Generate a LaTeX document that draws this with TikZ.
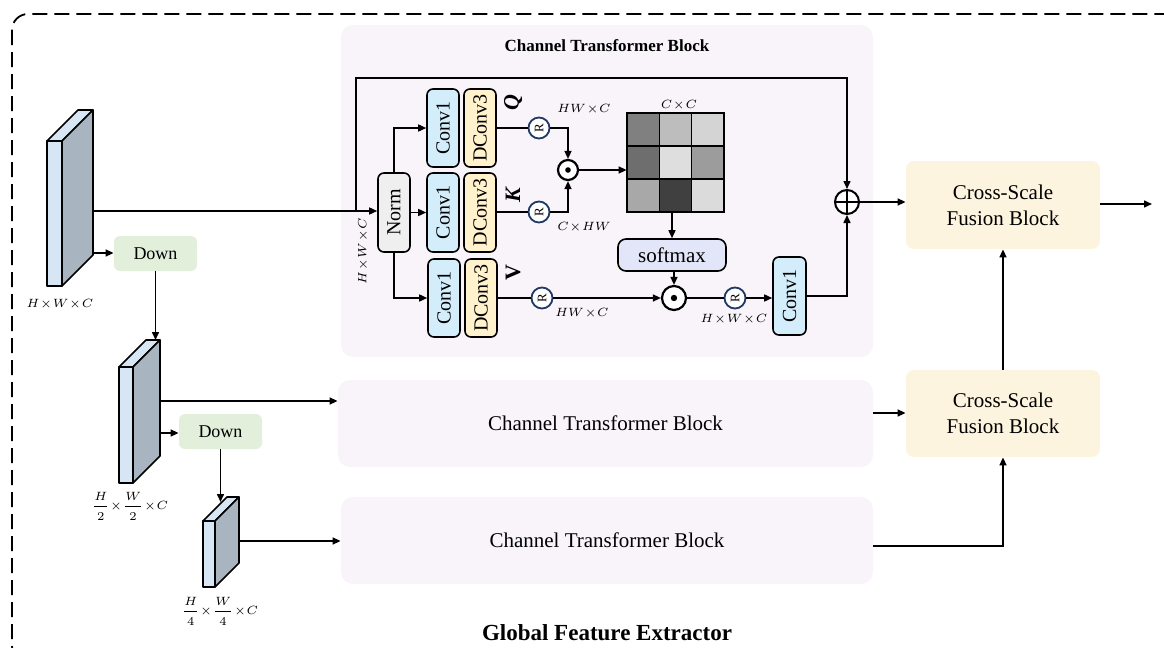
\documentclass[tikz,border=0pt]{standalone}
\usepackage{fontspec}
\setmainfont{Liberation Serif}
\usetikzlibrary{arrows.meta,calc}
\definecolor{ctbfill}{HTML}{F8F4FA}
\definecolor{csffill}{HTML}{FDF4DF}
\definecolor{downfill}{HTML}{E2EFDA}
\definecolor{convblue}{HTML}{D3EEFA}
\definecolor{dconvyel}{HTML}{FFF2CC}
\definecolor{normgray}{HTML}{EFEFEF}
\definecolor{softfill}{HTML}{E3E6F8}
\definecolor{rnavy}{HTML}{1F3864}
\definecolor{frontblue}{HTML}{D6E6F4}
\definecolor{sidegray}{HTML}{A8B5C1}
\newcommand\fblock[5]{%
  \filldraw[blk,fill=frontblue] (#1,#2) rectangle (#3,#4);
  \filldraw[blk,fill=frontblue] (#1,#2) -- ({#1+#5},{#2-#5}) -- ({#3+#5},{#2-#5}) -- (#3,#2) -- cycle;
  \filldraw[blk,fill=sidegray] (#3,#2) -- ({#3+#5},{#2-#5}) -- ({#3+#5},{#4-#5}) -- (#3,#4) -- cycle;}
\newcommand\mcell[3]{\fill[#3] ({627+#1*32.33},{113+#2*33}) rectangle ++(32.33,33);}
\newcommand\tx{\mskip1mu{\times}\mskip1mu}
\begin{document}
\begin{tikzpicture}[x=0.5pt,y=-0.5pt,
  ln/.style={line width=0.75pt},
  arr/.style={line width=0.75pt,-{Triangle[length=4pt,width=3.5pt]}},
  blk/.style={line width=0.8pt,line join=round},
  panel/.style={fill=ctbfill,rounded corners=6pt,inner sep=0pt},
  csf/.style={fill=csffill,rounded corners=4pt,inner sep=0pt,minimum width=97pt,align=center,font=\fontsize{10.5}{13}\selectfont},
  down/.style={fill=downfill,rounded corners=3pt,inner sep=0pt,minimum width=41.5pt,minimum height=17.5pt,font=\fontsize{9}{9}\selectfont},
  vbox/.style={draw,line width=0.8pt,rounded corners=3pt,inner sep=0pt,minimum width=16pt,minimum height=39pt,font=\fontsize{10}{10}\selectfont},
  conv/.style={vbox,fill=convblue},
  dconv/.style={vbox,fill=dconvyel},
  rc/.style={circle,draw=rnavy,line width=0.9pt,fill=white,inner sep=0pt,minimum size=10.5pt,font=\fontsize{6.5}{6.5}\selectfont},
  op/.style={circle,draw,line width=1.1pt,inner sep=0pt,fill=white},
  dim/.style={font=\fontsize{6.5}{7}\selectfont,inner sep=0pt},
  qkv/.style={rotate=90,font=\fontsize{11}{11}\selectfont\bfseries\itshape,inner sep=0pt}]
\useasboundingbox (0,0) rectangle (1164,648);
\clip (0,0) rectangle (1164,648);
% outer dashed frame
\draw[line width=0.9pt,dash pattern=on 7.5pt off 3.5pt,rounded corners=8pt] (12,14) rectangle (1182,662);
\node[font=\fontsize{11.5}{12}\selectfont\bfseries] (gfe) at (607,633) {Global Feature Extractor};

% panels
\node[panel,minimum width=266pt,minimum height=166pt] (ctb1) at (607,191) {};
\node[font=\fontsize{8.5}{9}\selectfont\bfseries] (title) at (607,46) {Channel Transformer Block};
\node[panel,minimum width=267.5pt,minimum height=43.5pt,font=\fontsize{10.5}{11}\selectfont] (ctb2) at (605.5,423.5) {Channel Transformer Block};
\node[panel,minimum width=266pt,minimum height=43.5pt,font=\fontsize{10.5}{11}\selectfont] (ctb3) at (607,540.5) {Channel Transformer Block};
\node[csf,minimum height=44pt] (csf1) at (1003,205) {Cross-Scale\\Fusion Block};
\node[csf,minimum height=43.5pt] (csf2) at (1003,413.5) {Cross-Scale\\Fusion Block};

% feature blocks
\fblock{47}{141}{62}{286}{31}
\fblock{119}{367}{133}{483}{27}
\fblock{203}{521}{215}{587}{24}
\node[dim] (l1) at (60,304) {$H\tx W\tx C$};
\node[dim,font=\fontsize{6}{7}\selectfont] (l2) at (130,506) {$\displaystyle\frac{H}{2}\tx\frac{W}{2}\tx C$};
\node[dim,font=\fontsize{6}{7}\selectfont] (l3) at (220,611) {$\displaystyle\frac{H}{4}\tx\frac{W}{4}\tx C$};
\node[down] (down1) at (155.5,253.5) {Down};
\node[down] (down2) at (220.5,431.5) {Down};

\coordinate (b1out) at (93,211);
\coordinate (split) at (356,211);
\coordinate (rtop) at (356,78);
\coordinate (b1down) at (93,253);
\coordinate (b2top) at (155.5,340);
\coordinate (b2out) at (160,401);
\coordinate (b2down) at (160,433);
\coordinate (b3top) at (220.5,502);
\coordinate (b3out) at (239,541);
\coordinate (c2o) at (873,413);
\coordinate (c3o) at (873,546);
\coordinate (outend) at (1152,204);

% inner nodes of the first block
\node[vbox,fill=normgray,minimum height=39.5pt] (norm) at (394,212.5) {\rotatebox{90}{Norm}};
\node[conv] (c1q) at (443,128) {\rotatebox{90}{Conv1}};
\node[dconv] (dq) at (480,128) {\rotatebox{90}{DConv3}};
\node[conv,minimum height=39.5pt] (c1k) at (443,212.5) {\rotatebox{90}{Conv1}};
\node[dconv,minimum height=39.5pt] (dk) at (480,212.5) {\rotatebox{90}{DConv3}};
\node[conv] (c1v) at (444,298) {\rotatebox{90}{Conv1}};
\node[dconv] (dv) at (481,298) {\rotatebox{90}{DConv3}};
\node[qkv] (lq) at (513,103) {Q};
\node[qkv] (lk) at (513,195) {K};
\node[rotate=90,font=\fontsize{11}{11}\selectfont\bfseries,inner sep=0pt] (lv) at (513,273) {V};
\node[rc] (rq) at (539,128) {\rotatebox{90}{R}};
\node[rc] (rk) at (539,212) {\rotatebox{90}{R}};
\node[rc] (rv) at (542,298) {\rotatebox{90}{R}};
\node[rc] (ro) at (735,298) {\rotatebox{90}{R}};
\node[op,minimum size=10pt] (od1) at (568,170) {};
\node[op,minimum size=12pt] (od2) at (674,298) {};
\node[op,minimum size=12pt,line width=1pt] (opl) at (847,202) {};
\node[inner sep=0pt,minimum width=48.5pt,minimum height=49.5pt] (mat) at (675.5,162.5) {};
\node[draw,line width=0.8pt,rounded corners=4pt,fill=softfill,inner sep=0pt,minimum width=54pt,minimum height=16pt,font=\fontsize{10.5}{10.5}\selectfont] (soft) at (672,255) {softmax};
\node[conv,minimum width=16.5pt] (c1o) at (789.5,296) {\rotatebox{90}{Conv1}};

% matrix
\mcell{0}{0}{black!50}\mcell{1}{0}{black!26}\mcell{2}{0}{black!17}
\mcell{0}{1}{black!57}\mcell{1}{1}{black!13}\mcell{2}{1}{black!39}
\mcell{0}{2}{black!34}\mcell{1}{2}{black!75}\mcell{2}{2}{black!14}
\draw[line width=0.7pt] (627,113) rectangle (724,212);
\foreach \k in {1,2}{
  \draw[line width=0.7pt] ({627+\k*32.33},113) -- ({627+\k*32.33},212);
  \draw[line width=0.7pt] (627,{113+\k*33}) -- (724,{113+\k*33});}

% dot and plus marks
\fill (od1) circle (1.4pt);
\fill (od2) circle (1.6pt);
\draw[line width=1pt] (opl.north) -- (opl.south) (opl.west) -- (opl.east);

% dims in block
\node[dim] (dq1) at (584,109) {$HW\tx C$};
\node[dim] (dk1) at (584,227) {$C\tx HW$};
\node[dim] (dv1) at (582,313) {$HW\tx C$};
\node[dim] (do1) at (734,319) {$H\tx W\tx C$};
\node[dim] (dcc) at (679,105) {$C\tx C$};
\node[dim,rotate=90] (din) at (363,251) {$H\tx W\tx C$};

% connectors: left side
\draw[ln] (b1out) -- (split);
\draw[arr] (split) -- (split -| norm.west);
\draw[arr] (split) -- (rtop) -| (opl.north);
\draw[arr] (b1down) -- (b1down -| down1.west);
\draw[arr] (down1.south) -- (b2top);
\draw[arr] (b2out) -- (b2out -| ctb2.west);
\draw[arr] (b2down) -- (b2down -| down2.west);
\draw[arr] (down2.south) -- (b3top);
\draw[arr] (b3out) -- (b3out -| ctb3.west);

% connectors: inside block
\draw[arr] (norm.north) |- (c1q.west);
\draw[arr] (norm.east) -- (norm.east -| c1k.west);
\draw[arr] (norm.south) |- (c1v.west);
\draw[ln] (dq.east) -- (rq.west);
\draw[ln] (dk.east |- rk) -- (rk.west);
\draw[ln] (dv.east) -- (rv.west);
\draw[arr] (rq.east) -| (od1.north);
\draw[arr] (rk.east) -| (od1.south);
\draw[arr] (od1.east) -- (od1.east -| mat.west);
\draw[arr] (mat.south -| soft.north) -- (soft.north);
\draw[arr] (soft.south -| od2.north) -- (od2.north);
\draw[arr] (rv.east) -- (od2.west);
\draw[ln] (od2.east) -- (ro.west);
\draw[arr] (ro.east) -- (ro.east -| c1o.west);
\draw[arr] (c1o.east) -| (opl.south);
\draw[arr] (opl.east) -- (opl.east -| csf1.west);

% connectors: right side
\draw[arr] (c2o) -- (c2o -| csf2.west);
\draw[arr] (c3o) -| (csf2.south);
\draw[arr] (csf2.north) -- (csf1.south);
\draw[arr] (csf1.east |- outend) -- (outend);
\end{tikzpicture}
\end{document}
